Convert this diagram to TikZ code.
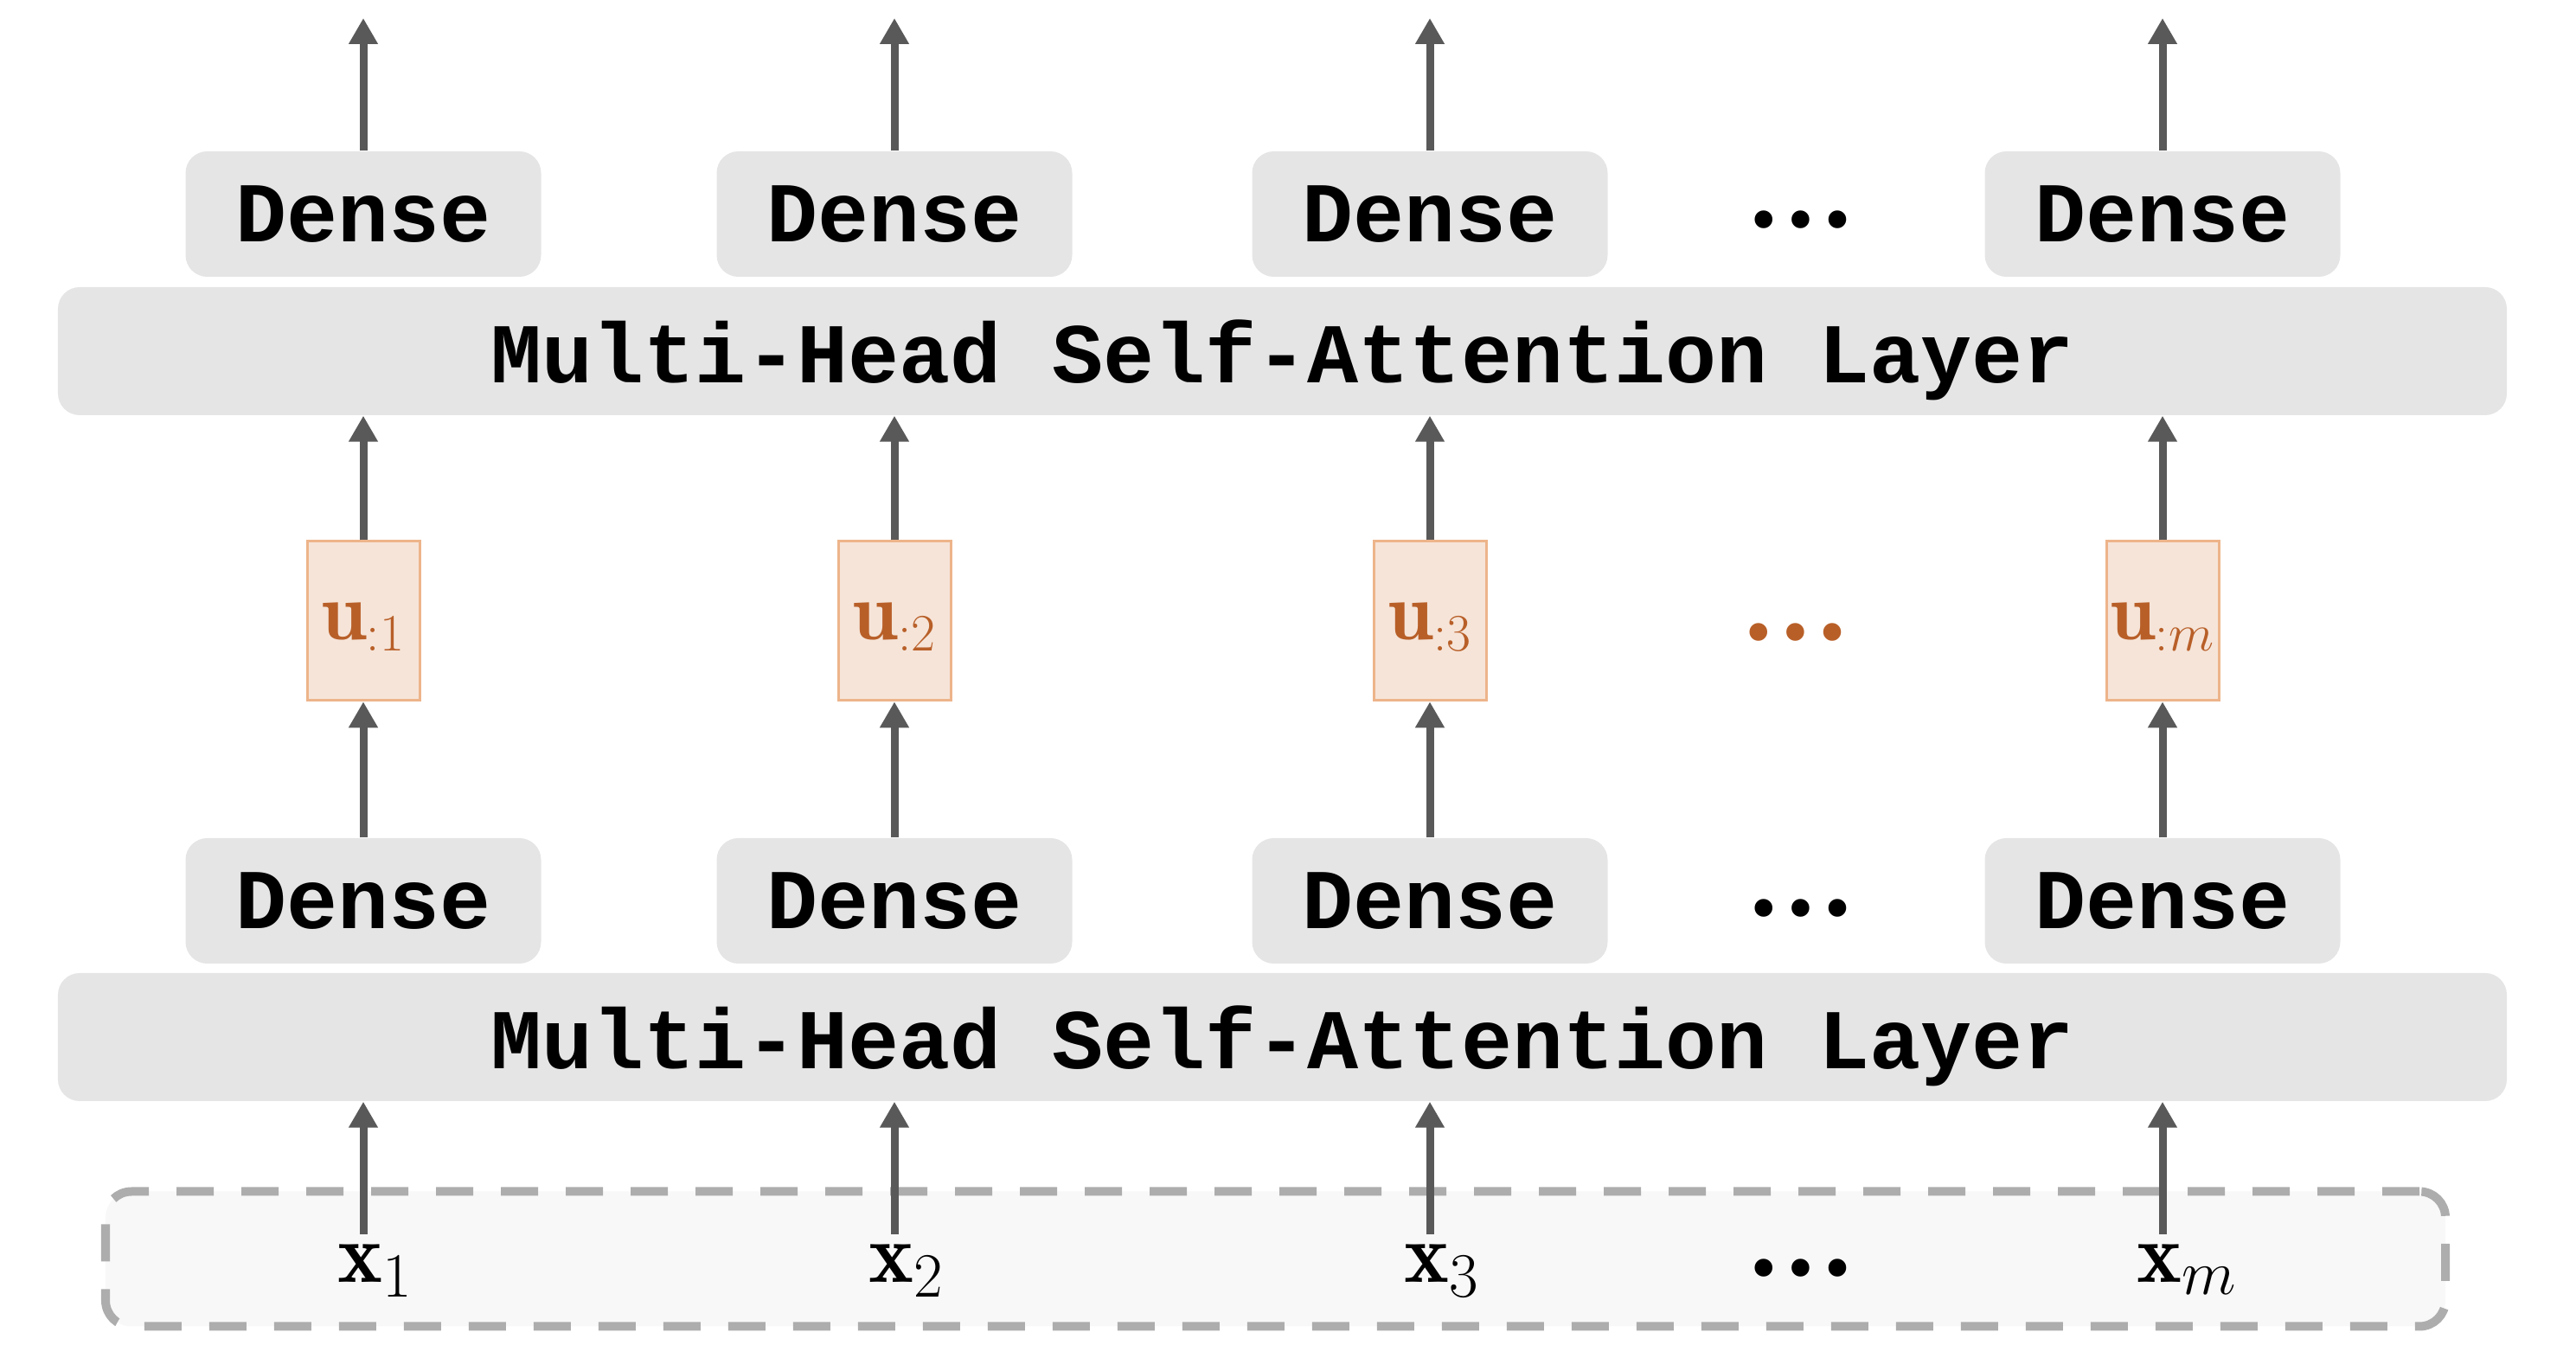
\documentclass[tikz,border=0pt]{standalone}
\usepackage{fontspec}
\setmonofont{Liberation Mono}
\newfontfamily\dotsfont{Liberation Serif}
\usetikzlibrary{positioning, arrows.meta}
\definecolor{boxgray}{HTML}{E5E5E5}
\definecolor{arrowgray}{HTML}{595959}
\definecolor{ufill}{HTML}{F6E4D8}
\definecolor{udraw}{HTML}{EDB48A}
\definecolor{utext}{HTML}{B85F28}
\definecolor{dashgray}{HTML}{ADADAD}
\definecolor{inputfill}{HTML}{F8F8F8}

\begin{document}
\begin{tikzpicture}[
    node distance=0.12cm,
    layer/.style={fill=boxgray, rounded corners=0.25cm, minimum width=28.31cm, minimum height=1.48cm, text depth=0pt, font=\ttfamily\bfseries\fontsize{28}{30}\selectfont},
    dense/.style={fill=boxgray, rounded corners=0.25cm, minimum width=4.11cm, minimum height=1.45cm, font=\ttfamily\bfseries\fontsize{28}{30}\selectfont},
    ubox/.style={fill=ufill, draw=udraw, line width=0.03cm, minimum width=1.30cm, minimum height=1.84cm, inner sep=0pt, text depth=0pt, text=utext, font=\fontsize{27}{29}\selectfont},
    inputbox/.style={draw=dashgray, fill=inputfill, line width=0.1cm, dash pattern=on 0.43cm off 0.32cm, rounded corners=0.3cm, minimum width=27.05cm, minimum height=1.56cm},
    input/.style={inner sep=0pt, anchor=base west, font=\fontsize{28}{30}\selectfont},
    dots/.style={inner sep=0pt, font=\dotsfont\bfseries\fontsize{36}{38}\selectfont},
    arrow/.style={-{Triangle[length=0.3cm, width=0.32cm]}, line width=0.09cm, draw=arrowgray}
]
\useasboundingbox (0,0) rectangle (29.78,15.70);

% input sequence
\node[inputbox] (inputs) at (14.745,1.145) {};

% attention layers
\node[layer] (mhsa1) at (14.825,3.71) {Multi-Head Self-Attention Layer};
\node[layer] (mhsa2) at (14.825,11.64) {Multi-Head Self-Attention Layer};

% one column per token
\foreach \i/\cx/\k in {1/4.20/1, 2/10.34/2, 3/16.53/3, 4/25.00/m} {
    \node[input] (x\i) at (\cx-0.30,0.87) {$\mathbf{x}_{\k}$};
    \coordinate (in\i) at (\cx,1.43);
    \node[dense] (d\i) at (\cx,5.285) {Dense};
    \node[ubox, above=1.57cm of d\i] (u\i) {$\mathbf{u}_{:\k}$};
    \node[dense] (t\i) at (\cx,13.225) {Dense};
    \coordinate (out\i) at (\cx,15.49);

    \draw[arrow] (in\i) -- (in\i |- mhsa1.south);
    \draw[arrow] (d\i) -- (u\i);
    \draw[arrow] (u\i) -- (u\i |- mhsa2.south);
    \draw[arrow] (t\i) -- (out\i);
}

% dots
\node[dots] (dx) at (20.82,1.04) {…};
\node[dots] (dd) at (20.82,5.20) {…};
\node[dots, text=utext] (du) at (20.76,8.39) {…};
\node[dots] (dt) at (20.82,13.16) {…};

\end{tikzpicture}
\end{document}
